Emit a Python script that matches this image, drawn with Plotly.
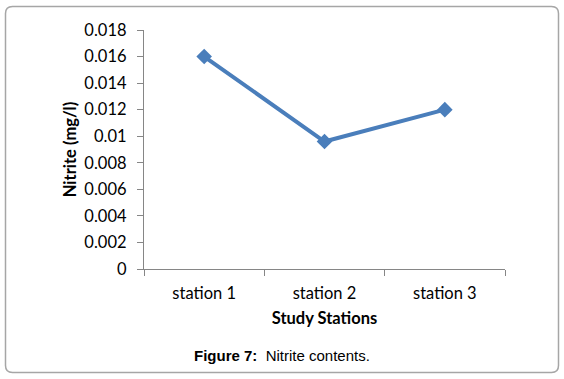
import plotly.graph_objects as go

stations = ["station 1", "station 2", "station 3"]
nitrite = [0.016, 0.0096, 0.012]
y_ticks = [0, 0.002, 0.004, 0.006, 0.008, 0.01, 0.012, 0.014, 0.016, 0.018]
y_tick_labels = ["0", "0.002", "0.004", "0.006", "0.008", "0.01", "0.012", "0.014", "0.016", "0.018"]

W, H = 564, 379
L, R, T, B = 144, 505, 30, 269
pw, ph = R - L, B - T

def px(x):
    return (x - L) / pw

def py(y):
    return (B - y) / ph

fig = go.Figure()
fig.add_trace(go.Scatter(
    x=stations, y=nitrite, mode="lines+markers",
    line=dict(color="#4A7EBB", width=4),
    marker=dict(symbol="diamond", size=12, color="#4A7EBB"),
    showlegend=False, cliponaxis=False,
))

font_main = "Lato, 'Open Sans', sans-serif"
fig.update_layout(
    width=W, height=H,
    margin=dict(l=L, r=W - R, t=T, b=H - B),
    paper_bgcolor="white", plot_bgcolor="white",
    font=dict(family=font_main, size=14, color="#000000"),
    xaxis=dict(
        showline=True, linecolor="#868686", linewidth=1.3,
        ticks="outside", tickson="boundaries", ticklen=6, tickcolor="#868686",
        showgrid=False, zeroline=False,
        tickfont=dict(size=16.5), ticklabelstandoff=9,
        title=dict(text="<b>Study Stations</b>", font=dict(size=16.5), standoff=10),
        range=[-0.5, 2.5],
    ),
    yaxis=dict(
        showline=True, linecolor="#868686", linewidth=1.3,
        ticks="outside", ticklen=6, tickcolor="#868686",
        showgrid=False, zeroline=False,
        range=[0, 0.018], tickvals=y_ticks, ticktext=y_tick_labels,
        tickfont=dict(size=16.5), ticklabelstandoff=7,
        title=dict(text="<b>Nitrite (mg/l)</b>", font=dict(size=16.5), standoff=3),
    ),
)

# rounded outer frame
x0, x1 = px(5.5), px(558.5)
y0, y1 = py(372.5), py(6.5)
rx = 7 / pw
ry = 7 / ph
path = (f"M {x0+rx},{y1} L {x1-rx},{y1} Q {x1},{y1} {x1},{y1-ry} "
        f"L {x1},{y0+ry} Q {x1},{y0} {x1-rx},{y0} "
        f"L {x0+rx},{y0} Q {x0},{y0} {x0},{y0+ry} "
        f"L {x0},{y1-ry} Q {x0},{y1} {x0+rx},{y1} Z")
fig.add_shape(type="path", xref="paper", yref="paper", path=path,
              line=dict(color="#A6A6A6", width=1.5), layer="below")

fig.add_annotation(
    xref="paper", yref="paper", x=px(282), y=py(355),
    text="<b>Figure 7:</b>  Nitrite contents.",
    showarrow=False, xanchor="center", yanchor="middle",
    font=dict(family="'Liberation Sans', Arial, sans-serif", size=15, color="#000000"),
)

fig.write_html("out.html", config={"displayModeBar": False},
               post_script="document.body.style.margin='0';document.body.style.overflow='hidden';")
